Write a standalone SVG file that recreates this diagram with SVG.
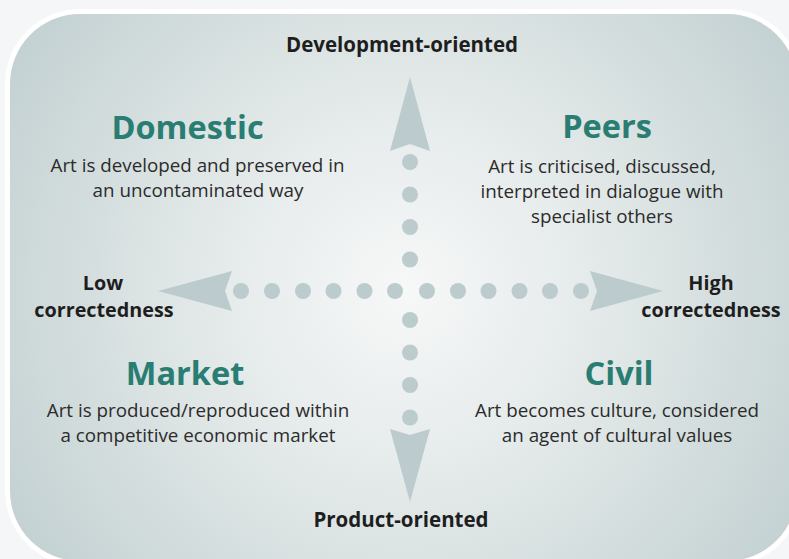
<svg xmlns="http://www.w3.org/2000/svg" width="789" height="559" viewBox="0 0 789 559">
  <style>
    .title { font-family: "Open Sans", "Liberation Sans", sans-serif; font-weight: 700; font-size: 32.5px; fill: #2a7d72; text-anchor: middle; }
    .desc { font-family: "Open Sans", "Liberation Sans", sans-serif; font-size: 18.8px; fill: #2b2b2b; text-anchor: middle; }
    .axis { font-family: "Open Sans", "Liberation Sans", sans-serif; font-weight: 700; font-size: 20.5px; fill: #1e1e1e; text-anchor: middle; }
    .side { font-size: 19.8px; }
    .mark { fill: #bccbcd; }
  </style>
  <defs>
    <radialGradient id="panelFill" gradientUnits="userSpaceOnUse" cx="405" cy="290" r="470">
      <stop offset="0" stop-color="#f7f8f8"/>
      <stop offset="0.45" stop-color="#e2e8e8"/>
      <stop offset="1" stop-color="#c2d0d1"/>
    </radialGradient>
    <circle id="dot" r="8" class="mark"/>
  </defs>

  <!-- page and panel -->
  <rect width="789" height="559" fill="#f5f6f7"/>
  <rect x="5" y="9" width="797" height="557" rx="75" fill="#ffffff"/>
  <rect x="10" y="14" width="787" height="547" rx="70" fill="url(#panelFill)"/>

  <!-- axes: arrowheads and dotted shafts -->
  <g id="connectors">
    <polygon class="mark" points="410,77 430,151 410,144 390,151"/>
    <polygon class="mark" points="410,502 430,429 410,435 390,429"/>
    <polygon class="mark" points="158,291 232,271 225,291 232,311"/>
    <polygon class="mark" points="663,291 590,271 597,291 590,311"/>
    <use href="#dot" x="410" y="162"/>
    <use href="#dot" x="410" y="194.5"/>
    <use href="#dot" x="410" y="227"/>
    <use href="#dot" x="410" y="259.5"/>
    <use href="#dot" x="410" y="320"/>
    <use href="#dot" x="410" y="352.5"/>
    <use href="#dot" x="410" y="385"/>
    <use href="#dot" x="410" y="417.5"/>
    <use href="#dot" x="241" y="291"/>
    <use href="#dot" x="272" y="291"/>
    <use href="#dot" x="303" y="291"/>
    <use href="#dot" x="333.5" y="291"/>
    <use href="#dot" x="364.5" y="291"/>
    <use href="#dot" x="395" y="291"/>
    <use href="#dot" x="427" y="291"/>
    <use href="#dot" x="458" y="291"/>
    <use href="#dot" x="488.5" y="291"/>
    <use href="#dot" x="519.5" y="291"/>
    <use href="#dot" x="550" y="291"/>
    <use href="#dot" x="581" y="291"/>
  </g>

  <!-- axis labels -->
  <g id="axis-top"><text class="axis" x="402" y="52">Development-oriented</text></g>
  <g id="axis-bottom"><text class="axis" x="401" y="527">Product-oriented</text></g>
  <g id="axis-left">
    <text class="axis side" x="103" y="290">Low</text>
    <text class="axis side" x="104" y="317">correctedness</text>
  </g>
  <g id="axis-right">
    <text class="axis side" x="711" y="290">High</text>
    <text class="axis side" x="711" y="317">correctedness</text>
  </g>

  <!-- quadrants -->
  <g id="domestic">
    <text class="title" x="187.5" y="139">Domestic</text>
    <text class="desc" x="197.5" y="172">Art is developed and preserved in</text>
    <text class="desc" x="198" y="197">an uncontaminated way</text>
  </g>
  <g id="peers">
    <text class="title" x="607" y="138">Peers</text>
    <text class="desc" x="602" y="173">Art is criticised, discussed,</text>
    <text class="desc" x="602" y="198">interpreted in dialogue with</text>
    <text class="desc" x="602" y="223">specialist others</text>
  </g>
  <g id="market">
    <text class="title" x="185" y="385">Market</text>
    <text class="desc" x="198" y="417">Art is produced/reproduced within</text>
    <text class="desc" x="198" y="442">a competitive economic market</text>
  </g>
  <g id="civil">
    <text class="title" x="619" y="385">Civil</text>
    <text class="desc" x="617" y="417">Art becomes culture, considered</text>
    <text class="desc" x="617" y="442">an agent of cultural values</text>
  </g>
</svg>
